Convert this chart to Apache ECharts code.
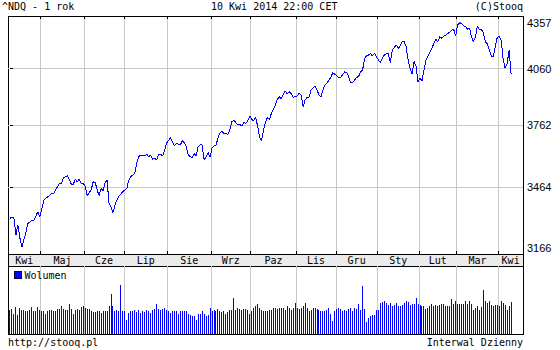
<!DOCTYPE html>
<html><head><meta charset="utf-8">
<script src="https://cdn.jsdelivr.net/npm/echarts@6/dist/echarts.min.js"></script>
<style>html,body{margin:0;padding:0;background:#fff}#c{width:560px;height:350px}#c svg path{shape-rendering:crispEdges}</style>
</head><body><div id="c"></div>
<script>
// ---- data ----
const months = ['Kwi','Maj','Cze','Lip','Sie','Wrz','Paz','Lis','Gru','Sty','Lut','Mar','Kwi'];
// trading-day index of the first session of each month (day 0 = 10 Apr 2013)
const monthStartDay = [0,15,37,57,79,101,121,144,164,185,206,225,246];
const yTicks = [3166,3464,3762,4060,4357];
const priceDay = [0,1,2,3,4,5,6,7,8,9,10,11,12,13,14,15,16,17,18,20,21,22,23,24,25,26,27,28,29,31,32,33,34,35,36,37,38,39,41,42,43,44,45,46,47,48,49,50,51,52,53,54,55,57,58,59,60,61,63,64,65,66,68,69,70,71,72,73,74,75,76,77,78,79,81,82,83,84,86,87,88,89,90,91,92,93,94,95,96,97,98,99,100,101,102,103,104,105,106,107,108,110,111,112,113,114,115,116,117,118,119,120,121,122,123,124,125,126,127,128,129,130,131,132,133,134,135,136,137,138,139,140,141,142,143,145,146,147,148,149,150,151,152,153,154,155,156,157,158,159,160,161,162,163,165,166,167,169,170,171,172,173,174,175,176,177,178,179,180,181,182,183,184,185,186,187,188,189,190,191,192,193,195,196,197,198,199,200,201,202,203,204,205,206,207,208,209,210,211,212,213,214,215,216,217,218,219,220,221,222,223,224,225,226,227,228,229,230,231,232,233,234,235,236,237,238,239,240,241,242,243,244,245,246,247,248,249,250,251,252,253];
const priceValue = [3298,3303,3298,3221,3267,3207,3166,3198,3229,3275,3278,3290,3287,3306,3329,3306,3337,3382,3393,3406,3418,3414,3434,3450,3467,3467,3494,3499,3504,3462,3462,3488,3474,3488,3463,3467,3450,3406,3434,3474,3472,3434,3406,3442,3430,3467,3483,3369,3353,3325,3361,3385,3405,3425,3434,3442,3483,3499,3516,3567,3600,3609,3604,3613,3600,3609,3587,3592,3583,3609,3614,3604,3630,3670,3699,3678,3656,3670,3661,3683,3673,3652,3609,3600,3595,3618,3604,3652,3661,3661,3583,3600,3621,3597,3644,3656,3661,3696,3725,3731,3722,3717,3740,3784,3793,3779,3767,3770,3761,3779,3776,3788,3815,3797,3788,3808,3761,3704,3683,3740,3779,3808,3797,3830,3852,3875,3907,3921,3910,3937,3952,3937,3949,3937,3918,3925,3940,3931,3863,3903,3918,3918,3959,3972,3982,3959,3931,3921,3959,3987,3997,4016,4031,4058,4039,4031,4031,4063,4058,4035,4000,4000,4016,4031,4035,4063,4073,4138,4158,4161,4171,4155,4171,4151,4132,4116,4142,4161,4167,4171,4116,4191,4221,4201,4215,4239,4241,4211,4132,4083,4050,4122,4097,4006,4025,4012,4073,4132,4155,4179,4201,4231,4255,4241,4271,4261,4275,4281,4292,4296,4312,4316,4275,4343,4357,4353,4337,4332,4316,4322,4271,4241,4271,4337,4312,4316,4294,4239,4227,4191,4155,4151,4211,4267,4275,4247,4132,4083,4112,4191,4050];
// daily volume (millions), one per trading day 0..253
const volume = [
1825,1875,1525,2000,1450,1950,1825,1825,1700,1700,
1825,2025,1750,1700,2000,1825,1750,1700,1525,1750,
1825,1825,1750,1700,1875,1900,2075,1875,1825,1825,
2275,1875,1525,1825,1875,1825,2025,2075,1950,1900,
1875,1700,1625,1625,1700,1700,1575,1700,1750,1750,
2075,3025,2125,1750,1775,1750,3700,1700,1750,1025,
1575,1700,1750,1775,1625,1825,1575,1700,1625,1825,
1750,1575,1825,1875,2275,1900,1775,1875,1950,1825,
1750,1575,1700,1750,1750,1525,1700,1750,1750,1750,
1525,1450,1375,1325,1025,1525,1525,1750,1525,1375,
1450,1950,1750,1825,1750,1875,1750,1625,1700,1525,
1625,1825,1825,2700,1825,1950,1875,1825,1875,1875,
1825,1525,1750,1950,2125,2275,1950,1825,1750,1700,
1750,1775,1825,1950,1950,1875,1950,1950,1950,1825,
2075,1950,1825,1950,2325,1950,1875,1950,2075,2325,
1950,1700,1825,1950,1950,1875,1825,1750,1750,1750,
1825,1950,1525,950,1750,1875,1950,1875,1750,1825,
1750,1875,1950,1750,1950,1875,2275,1825,3575,1875,
875,1200,1325,1450,1450,1825,1775,2325,2400,2450,
2325,2200,2325,2075,2150,2325,2075,2125,2200,2325,
2500,2400,2200,2250,2250,2700,2250,2200,2075,2125,
1875,1950,2075,2250,2125,2200,2125,2200,2250,2250,
2125,2125,2125,2650,2250,2500,2250,2250,2250,2250,
2500,2250,2450,2250,1825,1950,2075,1825,2000,3325,
2500,2325,2500,2150,2075,2200,2200,2125,2500,2325,
2150,1825,2125,2375];

// ---- chart ----
const X0 = -1, X1 = 259;
const bounds = monthStartDay.slice(1).map(d => d + 0.5);
const edges = [X0].concat(bounds, [X1]);
const labelPos = months.map((m, i) => (edges[i] + edges[i + 1]) / 2);
const yMin = yTicks[0], yMax = yTicks[yTicks.length - 1];
const mono = 'DejaVu Sans Mono';
const gridColor = '#c8c8c8';
const blue = '#0000ff';
const box = {left: 8, right: 37, outerBoundsMode: 'none', containLabel: false};
const txt = {fontFamily: mono, fontSize: 10, fontWeight: 'normal', color: '#000'};

const chart = echarts.init(document.getElementById('c'), null, {renderer: 'svg'});
chart.setOption({
  animation: false,
  textStyle: {fontFamily: mono},
  title: [
    {text: '^NDQ - 1 rok', left: 2, top: 1, padding: 0, textStyle: txt},
    {text: '10 Kwi 2014 22:00 CET', left: 211, top: 1, padding: 0, textStyle: txt},
    {text: '(C)Stooq', right: 37, top: 1, padding: 0, textStyle: txt},
    {text: 'http://stooq.pl', left: 8, top: 337, padding: 0, textStyle: txt},
    {text: 'Interwal Dzienny', right: 37, top: 337, padding: 0, textStyle: txt}
  ],
  legend: {
    data: ['Wolumen'], left: 14, top: 270, padding: 0, icon: 'rect',
    itemWidth: 7, itemHeight: 7, itemGap: 0,
    itemStyle: {color: blue, borderColor: '#000040', borderWidth: 1},
    textStyle: Object.assign({}, txt, {padding: [0, 0, 0, -2]})
  },
  grid: [
    Object.assign({}, box, {top: 16, height: 238, show: true, borderColor: '#000', borderWidth: 1, backgroundColor: '#fff'}),
    Object.assign({}, box, {top: 22.7, height: 224.3}),
    Object.assign({}, box, {top: 254, height: 12, show: true, borderColor: '#000', borderWidth: 1, backgroundColor: '#ebebeb'}),
    Object.assign({}, box, {top: 266, height: 68, show: true, borderColor: '#000', borderWidth: 1, backgroundColor: '#fff'})
  ],
  xAxis: [
    {gridIndex: 0, type: 'value', min: X0, max: X1, position: 'top',
     axisLine: {show: false},
     axisTick: {show: true, inside: true, length: 3, customValues: bounds, lineStyle: {color: '#000'}},
     axisLabel: {show: false},
     splitLine: {show: true, lineStyle: {color: gridColor}}},
    {gridIndex: 0, type: 'value', min: X0, max: X1, position: 'bottom',
     axisLine: {show: false},
     axisTick: {show: true, inside: true, length: 3, customValues: bounds, lineStyle: {color: '#000'}},
     axisLabel: {show: false}, splitLine: {show: false}},
    {gridIndex: 1, type: 'value', min: X0, max: X1, show: false},
    {gridIndex: 2, type: 'value', min: X0, max: X1, position: 'bottom',
     axisLine: {show: false},
     axisTick: {show: false, customValues: labelPos},
     axisLabel: {show: true, inside: true, margin: 1, customValues: labelPos,
       fontFamily: mono, fontSize: 10, color: '#000',
       formatter: v => {
         let best = 0;
         labelPos.forEach((p, i) => { if (Math.abs(p - v) < Math.abs(labelPos[best] - v)) best = i; });
         return months[best];
       }},
     splitLine: {show: false}},
    {gridIndex: 3, type: 'value', min: X0, max: X1,
     axisLine: {show: false},
     axisTick: {show: false, customValues: bounds},
     axisLabel: {show: false},
     splitLine: {show: true, lineStyle: {color: gridColor}}}
  ],
  yAxis: [
    // price scale of the whole frame: grid lines, ticks and labels
    {gridIndex: 0, type: 'log', min: yMin, max: yMax, position: 'right',
     axisLine: {show: false},
     axisTick: {show: true, length: 3, customValues: yTicks.slice(1, -1), lineStyle: {color: '#000'}},
     axisLabel: {customValues: yTicks, margin: 4, fontFamily: 'Liberation Sans', fontSize: 11, color: '#000',
       formatter: v => {
         const r = Math.round(v);
         if (r === yMax) return '{top|' + r + '}';
         if (r === yMin) return '{bot|' + r + '}';
         return String(r);
       },
       rich: {
         top: {fontFamily: 'Liberation Sans', fontSize: 11, color: '#000', padding: [13, 0, 0, 0]},
         bot: {fontFamily: 'Liberation Sans', fontSize: 11, color: '#000', padding: [0, 0, 13, 0]}
       }},
     splitLine: {show: true, lineStyle: {color: gridColor}}},
    // same price range, inset area used by the line
    {gridIndex: 1, type: 'log', min: yMin, max: yMax, show: false},
    {gridIndex: 2, type: 'value', show: false},
    {gridIndex: 3, type: 'value', min: 0, max: 5100, show: false}
  ],
  series: [
    {name: '^NDQ', type: 'line', xAxisIndex: 2, yAxisIndex: 1,
     data: priceDay.map((d, i) => [d, priceValue[i]]),
     symbol: 'none', lineStyle: {color: blue, width: 1}, itemStyle: {color: blue}},
    {name: 'Wolumen', type: 'bar', xAxisIndex: 4, yAxisIndex: 3,
     data: volume.map((v, i) => [i, v]),
     barWidth: 1, itemStyle: {color: blue, borderWidth: 0}}
  ]
});
</script></body></html>
